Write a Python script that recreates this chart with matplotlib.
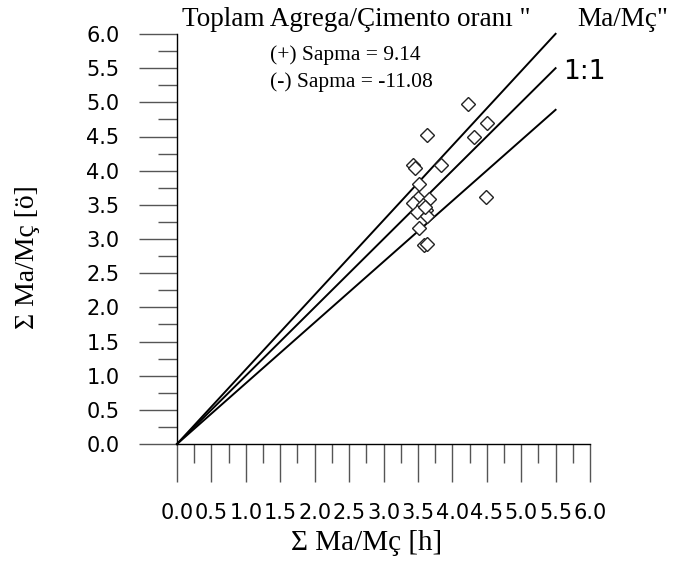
import numpy as np
import matplotlib.pyplot as plt
from matplotlib.ticker import MultipleLocator, FormatStrFormatter

# olculen (h) ve onerilen (o) Ma/Mc degerleri
x_h = [4.23, 4.51, 3.63, 4.31, 3.43, 3.46, 3.84, 3.52, 3.50, 3.66,
       3.43, 3.58, 3.62, 3.48, 3.63, 4.49, 3.52, 3.59, 3.63, 3.60]
y_o = [4.97, 4.70, 4.52, 4.49, 4.09, 4.04, 4.08, 3.81, 3.60, 3.59,
       3.53, 3.50, 3.43, 3.40, 3.33, 3.61, 3.16, 2.91, 2.93, 3.47]

sapma_pos = 9.14
sapma_neg = -11.08
line_end = 5.5

W, H = 683, 562
fig = plt.figure(figsize=(W / 100, H / 100), dpi=100)
ax = fig.add_axes([177 / W, (H - 444) / H, 413 / W, 410 / H])

xs = np.array([0, line_end])
for s in (sapma_pos, 0.0, sapma_neg):
    ax.plot(xs, xs * (1 + s / 100), color='black', lw=1.4, clip_on=False)

ax.plot(x_h, y_o, linestyle='none', marker='D', ms=7, mfc='white',
        mec='#222222', mew=1.0, clip_on=False)

ax.set_xlim(0, 6)
ax.set_ylim(0, 6)
for sp in ('top', 'right'):
    ax.spines[sp].set_visible(False)
ax.spines['left'].set_linewidth(1.0)
ax.spines['bottom'].set_linewidth(1.0)

for axis in (ax.xaxis, ax.yaxis):
    axis.set_major_locator(MultipleLocator(0.5))
    axis.set_minor_locator(MultipleLocator(0.25))
    axis.set_major_formatter(FormatStrFormatter('%.1f'))
ax.tick_params(which='major', direction='out', length=27.5, width=1.0,
               color='#555555', labelsize=15, labelfontfamily='DejaVu Sans')
ax.tick_params(axis='y', which='major', pad=14)
ax.tick_params(axis='x', which='major', pad=15)
ax.tick_params(which='minor', direction='out', length=13.7, width=1.0,
               color='#555555')

serif = 'Liberation Serif'
fig.text(182 / W, 1 - 19 / H, 'Toplam Agrega/Çimento oranı "',
         family=serif, fontsize=19.5, ha='left', va='center')
fig.text(668 / W, 1 - 19 / H, 'Ma/Mç"',
         family=serif, fontsize=19.5, ha='right', va='center')
fig.text(270 / W, 1 - 55 / H, f'(+) Sapma = {sapma_pos:.2f}',
         family=serif, fontsize=15.5, ha='left', va='center')
fig.text(270 / W, 1 - 82 / H, f'(-) Sapma = {sapma_neg:.2f}',
         family=serif, fontsize=15.5, ha='left', va='center')
fig.text(563 / W, 1 - 72 / H, '1:1', family='DejaVu Sans', fontsize=19,
         ha='left', va='center')

fig.text(367 / W, 1 - 543 / H, 'Σ Ma/Mç [h]', family=serif, fontsize=21,
         ha='center', va='center')
fig.text(27 / W, 1 - 257 / H, 'Σ Ma/Mç [ö]', family=serif, fontsize=20,
         ha='center', va='center', rotation=90)

fig.savefig('out.png', dpi=100)
